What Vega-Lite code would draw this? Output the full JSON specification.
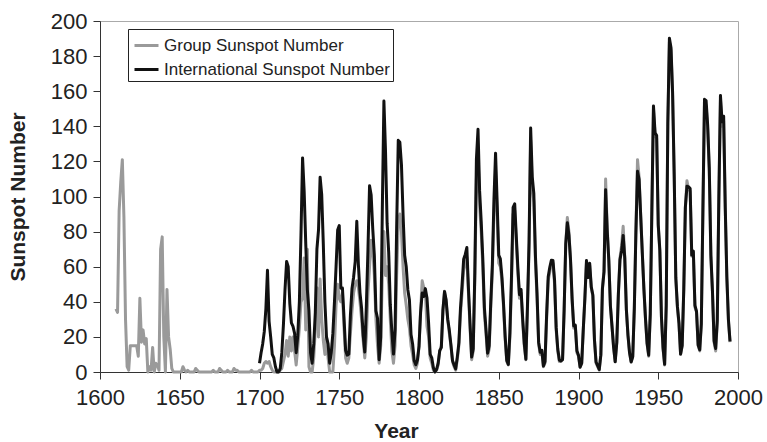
{
  "$schema": "https://vega.github.io/schema/vega-lite/v6.json",
  "width": 638,
  "height": 351,
  "autosize": {"type": "none"},
  "padding": {"left": 100, "top": 21, "right": 29, "bottom": 70},
  "background": "white",
  "config": {
    "font": "Liberation Sans",
    "view": {"stroke": "#aaaaaa", "strokeWidth": 1},
    "axis": {
      "domainColor": "#333333",
      "tickColor": "#333333",
      "labelColor": "#222222",
      "titleColor": "#222222",
      "labelFont": "Liberation Sans",
      "titleFont": "Liberation Sans",
      "labelFontSize": 22,
      "titleFontSize": 21,
      "titleFontWeight": "bold",
      "grid": false,
      "tickSize": 7
    }
  },
  "data": {
    "values": [
      {"t":1610,"G":36},{"t":1611,"G":34},{"t":1612,"G":92},{"t":1613,"G":108},{"t":1614,"G":121},{"t":1615,"G":88},{"t":1616,"G":30},{"t":1617,"G":3},{"t":1618,"G":1},{"t":1619,"G":15},
      {"t":1620,"G":15},{"t":1621,"G":15},{"t":1622,"G":15},{"t":1623,"G":15},{"t":1624,"G":9},{"t":1625,"G":42},{"t":1626,"G":17},{"t":1627,"G":24},{"t":1628,"G":16},{"t":1629,"G":19},
      {"t":1630,"G":0},{"t":1631,"G":3},{"t":1632,"G":1},{"t":1633,"G":14},{"t":1634,"G":0},{"t":1635,"G":5},{"t":1636,"G":4},{"t":1637,"G":1},{"t":1638,"G":70},{"t":1639,"G":77},
      {"t":1640,"G":20},{"t":1641,"G":0},{"t":1642,"G":47},{"t":1643,"G":20},{"t":1644,"G":13},{"t":1645,"G":2},{"t":1646,"G":0},{"t":1647,"G":0},{"t":1648,"G":0},{"t":1649,"G":0},
      {"t":1650,"G":0},{"t":1651,"G":0},{"t":1652,"G":3},{"t":1653,"G":1},{"t":1654,"G":0},{"t":1655,"G":1},{"t":1656,"G":0},{"t":1657,"G":0},{"t":1658,"G":0},{"t":1659,"G":0},
      {"t":1660,"G":2},{"t":1661,"G":1},{"t":1662,"G":0},{"t":1663,"G":0},{"t":1664,"G":0},{"t":1665,"G":0},{"t":1666,"G":0},{"t":1667,"G":0},{"t":1668,"G":0},{"t":1669,"G":0},
      {"t":1670,"G":0},{"t":1671,"G":1},{"t":1672,"G":0},{"t":1673,"G":0},{"t":1674,"G":0},{"t":1675,"G":2},{"t":1676,"G":1},{"t":1677,"G":0},{"t":1678,"G":0},{"t":1679,"G":0},
      {"t":1680,"G":1},{"t":1681,"G":0},{"t":1682,"G":0},{"t":1683,"G":0},{"t":1684,"G":2},{"t":1685,"G":1},{"t":1686,"G":1},{"t":1687,"G":0},{"t":1688,"G":0},{"t":1689,"G":0},
      {"t":1690,"G":0},{"t":1691,"G":0},{"t":1692,"G":0},{"t":1693,"G":0},{"t":1694,"G":0},{"t":1695,"G":1},{"t":1696,"G":0},{"t":1697,"G":0},{"t":1698,"G":0},{"t":1699,"G":0},
      {"t":1700,"G":1,"I":5},{"t":1701,"G":1,"I":11},{"t":1702,"G":2,"I":16},{"t":1703,"G":5,"I":23},{"t":1704,"G":6,"I":36},{"t":1705,"G":5,"I":58},{"t":1706,"G":6,"I":29},{"t":1707,"G":3,"I":20},{"t":1708,"G":1,"I":10},{"t":1709,"G":0,"I":8},
      {"t":1710,"G":0,"I":3},{"t":1711,"G":0,"I":0},{"t":1712,"G":0,"I":0},{"t":1713,"G":1,"I":2},{"t":1714,"G":2,"I":11},{"t":1715,"G":6,"I":27},{"t":1716,"G":10,"I":47},{"t":1717,"G":18,"I":63},{"t":1718,"G":9,"I":60},{"t":1719,"G":20,"I":39},
      {"t":1720,"G":12,"I":28},{"t":1721,"G":20,"I":26},{"t":1722,"G":12,"I":22},{"t":1723,"G":4,"I":11},{"t":1724,"G":14,"I":21},{"t":1725,"G":25,"I":40},{"t":1726,"G":40,"I":78},{"t":1727,"G":42,"I":122},{"t":1728,"G":65,"I":103},{"t":1729,"G":24,"I":73},
      {"t":1730,"G":70,"I":47},{"t":1731,"G":3,"I":35},{"t":1732,"G":0,"I":11},{"t":1733,"G":0,"I":5},{"t":1734,"G":8,"I":16},{"t":1735,"G":25,"I":34},{"t":1736,"G":48,"I":70},{"t":1737,"G":20,"I":81},{"t":1738,"G":53,"I":111},{"t":1739,"G":30,"I":101},
      {"t":1740,"G":18,"I":73},{"t":1741,"G":10,"I":40},{"t":1742,"G":20,"I":20},{"t":1743,"G":8,"I":16},{"t":1744,"G":0,"I":5},{"t":1745,"G":0,"I":11},{"t":1746,"G":0,"I":22},{"t":1747,"G":15,"I":40},{"t":1748,"G":38,"I":60},{"t":1749,"G":50,"I":80.9},
      {"t":1750,"G":42,"I":83.4},{"t":1751,"G":40,"I":47.7},{"t":1752,"G":45,"I":47.8},{"t":1753,"G":25,"I":30.7},{"t":1754,"G":8,"I":12.2},{"t":1755,"G":5,"I":9.6},{"t":1756,"G":8,"I":10.2},{"t":1757,"G":22,"I":32.4},{"t":1758,"G":35,"I":47.6},{"t":1759,"G":45,"I":54.0},
      {"t":1760,"G":50,"I":62.9},{"t":1761,"G":52,"I":85.9},{"t":1762,"G":48,"I":61.2},{"t":1763,"G":40,"I":45.1},{"t":1764,"G":30,"I":36.4},{"t":1765,"G":18,"I":20.9},{"t":1766,"G":8,"I":11.4},{"t":1767,"G":20,"I":37.8},{"t":1768,"G":45,"I":69.8},{"t":1769,"G":60,"I":106.1},
      {"t":1770,"G":75,"I":100.8},{"t":1771,"G":70,"I":81.6},{"t":1772,"G":55,"I":66.5},{"t":1773,"G":30,"I":34.8},{"t":1774,"G":15,"I":30.6},{"t":1775,"G":5,"I":7.0},{"t":1776,"G":15,"I":19.8},{"t":1777,"G":55,"I":92.5},{"t":1778,"G":80,"I":154.4},{"t":1779,"G":55,"I":125.9},
      {"t":1780,"G":60,"I":84.8},{"t":1781,"G":50,"I":68.1},{"t":1782,"G":30,"I":38.5},{"t":1783,"G":12,"I":22.8},{"t":1784,"G":5,"I":10.2},{"t":1785,"G":15,"I":24.1},{"t":1786,"G":55,"I":82.9},{"t":1787,"G":85,"I":132.0},{"t":1788,"G":90,"I":130.9},{"t":1789,"G":80,"I":118.1},
      {"t":1790,"G":60,"I":89.9},{"t":1791,"G":45,"I":66.6},{"t":1792,"G":38,"I":60.0},{"t":1793,"G":30,"I":46.9},{"t":1794,"G":25,"I":41.0},{"t":1795,"G":15,"I":21.3},{"t":1796,"G":10,"I":16.0},{"t":1797,"G":4,"I":6.4},{"t":1798,"G":2,"I":4.1},{"t":1799,"G":5,"I":6.8},
      {"t":1800,"G":15,"I":14.5},{"t":1801,"G":35,"I":34.0},{"t":1802,"G":52,"I":45.0},{"t":1803,"G":48,"I":43.1},{"t":1804,"G":45,"I":47.5},{"t":1805,"G":26,"I":42.2},{"t":1806,"G":20,"I":28.1},{"t":1807,"G":8,"I":10.1},{"t":1808,"G":5,"I":8.1},{"t":1809,"G":1,"I":2.5},
      {"t":1810,"G":0,"I":0.0},{"t":1811,"G":1,"I":1.4},{"t":1812,"G":4,"I":5.0},{"t":1813,"G":12,"I":12.2},{"t":1814,"G":15,"I":13.9},{"t":1815,"G":35,"I":35.4},{"t":1816,"G":46,"I":45.8},{"t":1817,"G":40,"I":41.1},{"t":1818,"G":30,"I":30.1},{"t":1819,"G":22,"I":23.9},
      {"t":1820,"G":15,"I":15.6},{"t":1821,"G":6,"I":6.6},{"t":1822,"G":3,"I":4.0},{"t":1823,"G":1,"I":1.8},{"t":1824,"G":7,"I":8.5},{"t":1825,"G":15,"I":16.6},{"t":1826,"G":33,"I":36.3},{"t":1827,"G":45,"I":49.6},{"t":1828,"G":58,"I":64.2},{"t":1829,"G":62,"I":67.0},
      {"t":1830,"G":65,"I":70.9},{"t":1831,"G":45,"I":47.8},{"t":1832,"G":25,"I":27.5},{"t":1833,"G":7,"I":8.5},{"t":1834,"G":12,"I":13.2},{"t":1835,"G":52,"I":56.9},{"t":1836,"G":110,"I":121.5},{"t":1837,"G":125,"I":138.3},{"t":1838,"G":95,"I":103.2},{"t":1839,"G":80,"I":85.7},
      {"t":1840,"G":60,"I":64.6},{"t":1841,"G":33,"I":36.7},{"t":1842,"G":22,"I":24.2},{"t":1843,"G":9,"I":10.7},{"t":1844,"G":13,"I":15.0},{"t":1845,"G":37,"I":40.1},{"t":1846,"G":57,"I":61.5},{"t":1847,"G":90,"I":98.5},{"t":1848,"G":115,"I":124.7},{"t":1849,"G":90,"I":96.3},
      {"t":1850,"G":62,"I":66.6},{"t":1851,"G":60,"I":64.5},{"t":1852,"G":52,"I":54.1},{"t":1853,"G":37,"I":39.0},{"t":1854,"G":19,"I":20.6},{"t":1855,"G":6,"I":6.7},{"t":1856,"G":4,"I":4.3},{"t":1857,"G":20,"I":22.7},{"t":1858,"G":50,"I":54.8},{"t":1859,"G":90,"I":93.8},
      {"t":1860,"G":92,"I":95.8},{"t":1861,"G":74,"I":77.2},{"t":1862,"G":56,"I":59.1},{"t":1863,"G":42,"I":44.0},{"t":1864,"G":45,"I":47.0},{"t":1865,"G":28,"I":30.5},{"t":1866,"G":15,"I":16.3},{"t":1867,"G":7,"I":7.3},{"t":1868,"G":35,"I":37.6},{"t":1869,"G":70,"I":74.0},
      {"t":1870,"G":132,"I":139.0},{"t":1871,"G":105,"I":111.2},{"t":1872,"G":97,"I":101.6},{"t":1873,"G":63,"I":66.2},{"t":1874,"G":42,"I":44.7},{"t":1875,"G":16,"I":17.0},{"t":1876,"G":10,"I":11.3},{"t":1877,"G":12,"I":12.4},{"t":1878,"G":3,"I":3.4},{"t":1879,"G":5,"I":6.0},
      {"t":1880,"G":30,"I":32.3},{"t":1881,"G":52,"I":54.3},{"t":1882,"G":57,"I":59.7},{"t":1883,"G":62,"I":63.7},{"t":1884,"G":62,"I":63.5},{"t":1885,"G":50,"I":52.2},{"t":1886,"G":24,"I":25.4},{"t":1887,"G":12,"I":13.1},{"t":1888,"G":6,"I":6.8},{"t":1889,"G":6,"I":6.3},
      {"t":1890,"G":7,"I":7.1},{"t":1891,"G":35,"I":35.6},{"t":1892,"G":73,"I":73.0},{"t":1893,"G":88,"I":85.1},{"t":1894,"G":80,"I":78.0},{"t":1895,"G":63,"I":64.0},{"t":1896,"G":40,"I":41.8},{"t":1897,"G":25,"I":26.2},{"t":1898,"G":26,"I":26.7},{"t":1899,"G":11,"I":12.1},
      {"t":1900,"G":9,"I":9.5},{"t":1901,"G":3,"I":2.7},{"t":1902,"G":5,"I":5.0},{"t":1903,"G":24,"I":24.4},{"t":1904,"G":42,"I":42.0},{"t":1905,"G":62,"I":63.5},{"t":1906,"G":54,"I":53.8},{"t":1907,"G":61,"I":62.0},{"t":1908,"G":48,"I":48.5},{"t":1909,"G":43,"I":43.9},
      {"t":1910,"G":18,"I":18.6},{"t":1911,"G":5,"I":5.7},{"t":1912,"G":3,"I":3.6},{"t":1913,"G":1,"I":1.4},{"t":1914,"G":10,"I":9.6},{"t":1915,"G":48,"I":47.4},{"t":1916,"G":58,"I":57.1},{"t":1917,"G":110,"I":103.9},{"t":1918,"G":82,"I":80.6},{"t":1919,"G":64,"I":63.6},
      {"t":1920,"G":38,"I":37.6},{"t":1921,"G":26,"I":26.1},{"t":1922,"G":14,"I":14.2},{"t":1923,"G":6,"I":5.8},{"t":1924,"G":17,"I":16.7},{"t":1925,"G":45,"I":44.3},{"t":1926,"G":65,"I":63.9},{"t":1927,"G":72,"I":69.0},{"t":1928,"G":83,"I":77.8},{"t":1929,"G":66,"I":64.9},
      {"t":1930,"G":36,"I":35.7},{"t":1931,"G":21,"I":21.2},{"t":1932,"G":11,"I":11.1},{"t":1933,"G":6,"I":5.7},{"t":1934,"G":9,"I":8.7},{"t":1935,"G":37,"I":36.1},{"t":1936,"G":82,"I":79.7},{"t":1937,"G":121,"I":114.4},{"t":1938,"G":111,"I":109.6},{"t":1939,"G":89,"I":88.8},
      {"t":1940,"G":68,"I":67.8},{"t":1941,"G":47,"I":47.5},{"t":1942,"G":30,"I":30.6},{"t":1943,"G":16,"I":16.3},{"t":1944,"G":9,"I":9.6},{"t":1945,"G":33,"I":33.2},{"t":1946,"G":92,"I":92.6},{"t":1947,"G":150,"I":151.6},{"t":1948,"G":135,"I":136.3},{"t":1949,"G":133,"I":134.7},
      {"t":1950,"G":83,"I":83.9},{"t":1951,"G":68,"I":69.4},{"t":1952,"G":31,"I":31.5},{"t":1953,"G":13,"I":13.9},{"t":1954,"G":4,"I":4.4},{"t":1955,"G":37,"I":38.0},{"t":1956,"G":140,"I":141.7},{"t":1957,"G":188,"I":190.2},{"t":1958,"G":183,"I":184.8},{"t":1959,"G":157,"I":159.0},
      {"t":1960,"G":111,"I":112.3},{"t":1961,"G":53,"I":53.9},{"t":1962,"G":37,"I":37.5},{"t":1963,"G":27,"I":27.9},{"t":1964,"G":10,"I":10.2},{"t":1965,"G":15,"I":15.1},{"t":1966,"G":47,"I":47.0},{"t":1967,"G":94,"I":93.8},{"t":1968,"G":109,"I":105.9},{"t":1969,"G":104,"I":105.5},
      {"t":1970,"G":103,"I":104.5},{"t":1971,"G":66,"I":66.6},{"t":1972,"G":68,"I":68.9},{"t":1973,"G":37,"I":38.0},{"t":1974,"G":34,"I":34.5},{"t":1975,"G":15,"I":15.5},{"t":1976,"G":12,"I":12.6},{"t":1977,"G":27,"I":27.5},{"t":1978,"G":91,"I":92.5},{"t":1979,"G":153,"I":155.4},
      {"t":1980,"G":152,"I":154.6},{"t":1981,"G":138,"I":140.4},{"t":1982,"G":114,"I":115.9},{"t":1983,"G":65,"I":66.6},{"t":1984,"G":45,"I":45.9},{"t":1985,"G":17,"I":17.9},{"t":1986,"G":12,"I":13.4},{"t":1987,"G":28,"I":29.4},{"t":1988,"G":98,"I":100.2},{"t":1989,"G":155,"I":157.6},
      {"t":1990,"G":140,"I":142.6},{"t":1991,"G":143,"I":145.7},{"t":1992,"G":93,"I":94.3},{"t":1993,"G":53,"I":54.6},{"t":1994,"G":29,"I":29.9},{"t":1995,"G":17,"I":17.5}
    ]
  },
  "transform": [
    {"fold": ["G", "I"], "as": ["series", "value"]},
    {"filter": "isValid(datum.value)"}
  ],
  "mark": {"type": "line", "strokeWidth": 3, "strokeJoin": "round"},
  "encoding": {
    "x": {
      "field": "t",
      "type": "quantitative",
      "scale": {"domain": [1600, 2000], "nice": false, "zero": false},
      "axis": {"title": "Year", "values": [1600, 1650, 1700, 1750, 1800, 1850, 1900, 1950, 2000], "format": "d", "labelPadding": 8, "titlePadding": 12, "titleX": 296, "labelFlush": false}
    },
    "y": {
      "field": "value",
      "type": "quantitative",
      "scale": {"domain": [0, 200], "nice": false},
      "axis": {"title": "Sunspot Number", "values": [0, 20, 40, 60, 80, 100, 120, 140, 160, 180, 200], "labelPadding": 6, "titlePadding": 22}
    },
    "color": {
      "field": "series",
      "type": "nominal",
      "scale": {"domain": ["G", "I"], "range": ["#9a9a9a", "#111111"]},
      "legend": {
        "title": null,
        "orient": "none",
        "legendX": 28,
        "legendY": 8,
        "labelExpr": "datum.label == 'G' ? 'Group Sunspot Number' : 'International Sunspot Number'",
        "labelFont": "Liberation Sans",
        "labelFontSize": 17,
        "labelColor": "#222222",
        "labelLimit": 400,
        "labelOffset": 4,
        "symbolType": "stroke",
        "symbolSize": 576,
        "symbolStrokeWidth": 3,
        "symbolOffset": 2,
        "rowPadding": 2,
        "padding": 3,
        "strokeColor": "#222222",
        "fillColor": "white"
      }
    }
  }
}
